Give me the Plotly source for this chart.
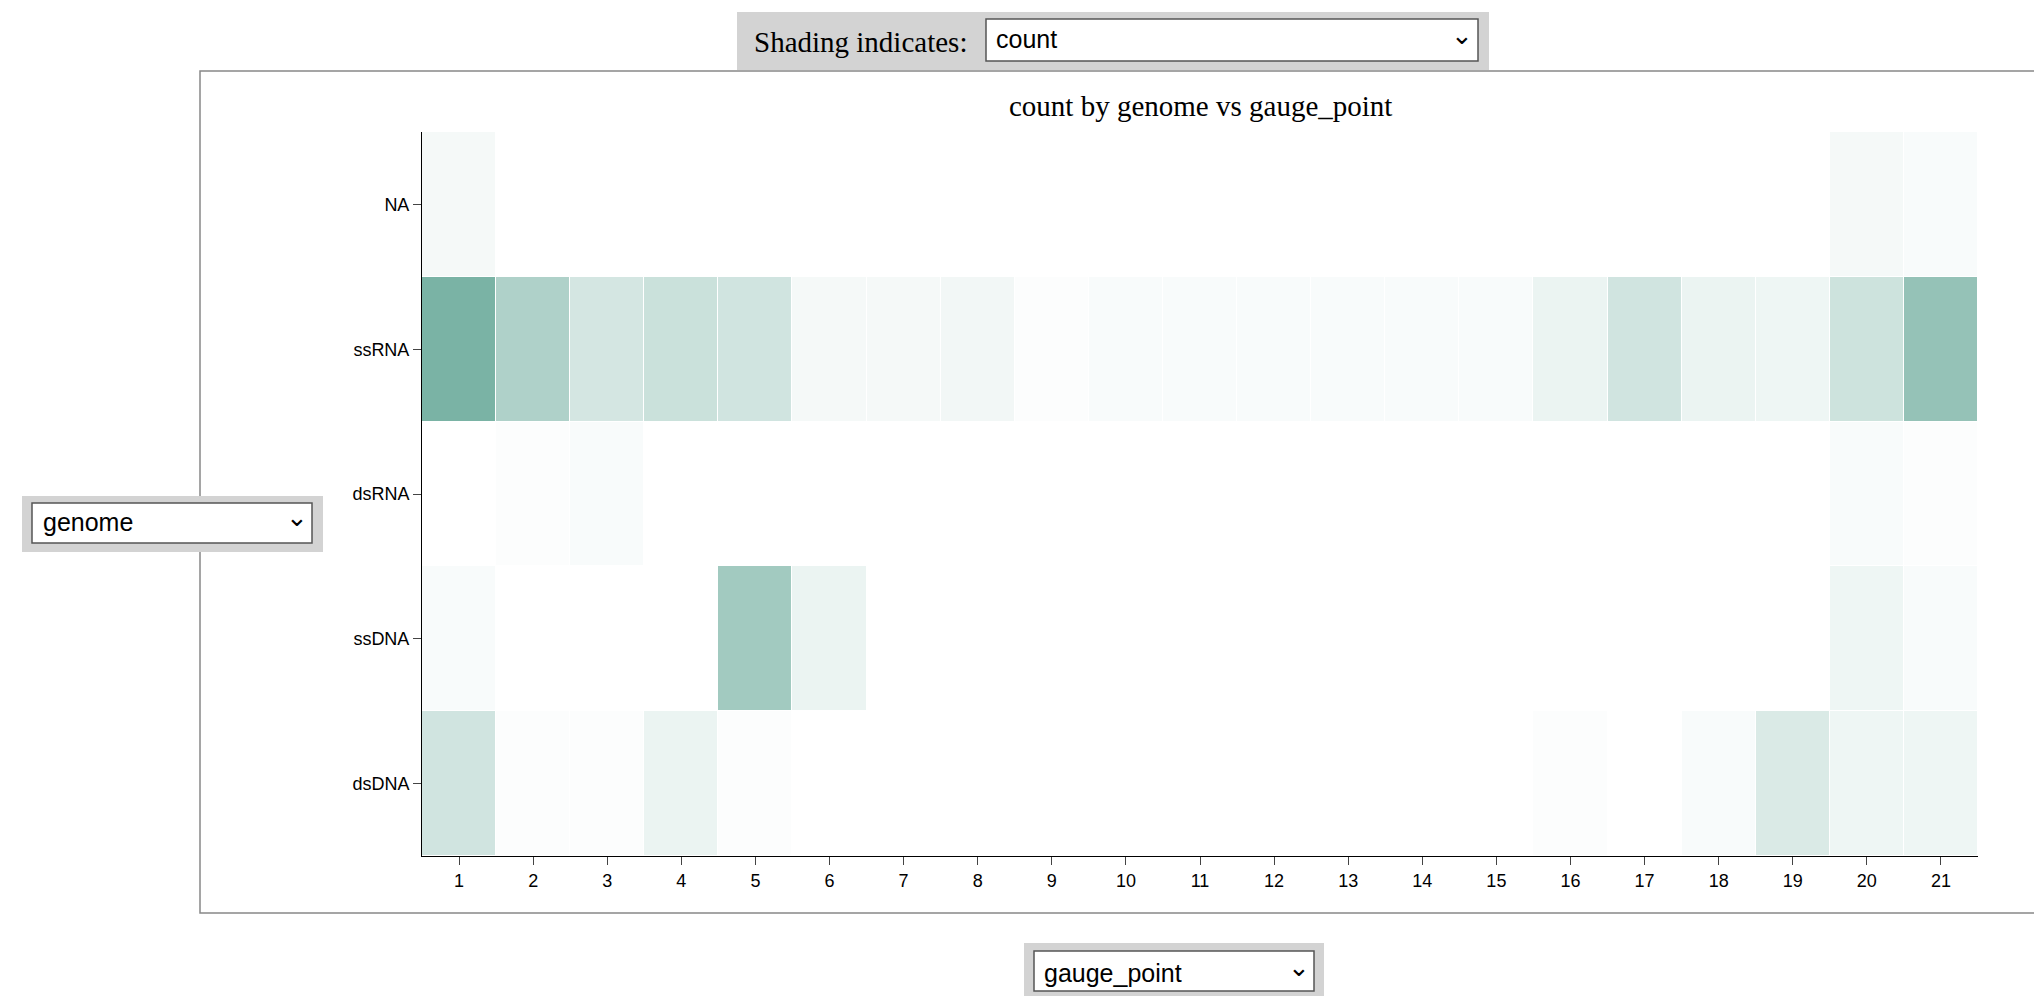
import plotly.graph_objects as go

genomes = ["dsDNA", "ssDNA", "dsRNA", "ssRNA", "NA"]
gauge = [str(i) for i in range(1, 22)]
counts = {
    "NA":    [3,0,0,0,0,0,0,0,0,0,0,0,0,0,0,0,0,0,0,3,2],
    "ssRNA": [40,24,13,16,14,3,3,4,1,2,2,2,2,2,2,6,14,6,5,15,32],
    "dsRNA": [0,1,2,0,0,0,0,0,0,0,0,0,0,0,0,0,0,0,0,2,1],
    "ssDNA": [2,0,0,0,28,6,0,0,0,0,0,0,0,0,0,0,0,0,0,5,2],
    "dsDNA": [14,1,1,6,1,0,0,0,0,0,0,0,0,0,0,1,0,2,11,5,5],
}
z = [counts[g] for g in genomes]

W, H = 2042, 996
L, R, T, B = 414, 1970, 124, 848
def px(x): return (x - L) / (R - L)
def py(y): return (B - y) / (B - T)

fig = go.Figure(go.Heatmap(
    x=gauge, y=genomes, z=z, xgap=1, ygap=1, showscale=False,
    colorscale=[[0, "#ffffff"], [1, "#7ab3a5"]], zmin=0, zmax=40,
    hovertemplate="genome=%{y}<br>gauge_point=%{x}<br>count=%{z}<extra></extra>"))

shapes = [
    dict(type="rect", xref="paper", yref="paper", x0=px(192), x1=px(2028), y0=py(63), y1=py(905),
         line=dict(color="#888", width=1.5)),
    dict(type="rect", xref="paper", yref="paper", x0=px(729), x1=px(1481), y0=py(4), y1=py(62),
         fillcolor="#d3d3d3", line=dict(width=0), layer="below"),
    dict(type="rect", xref="paper", yref="paper", x0=px(978), x1=px(1470), y0=py(11), y1=py(53),
         fillcolor="white", line=dict(color="#555", width=1.5)),
    dict(type="rect", xref="paper", yref="paper", x0=px(14), x1=px(315), y0=py(488), y1=py(544),
         fillcolor="#d3d3d3", line=dict(width=0)),
    dict(type="rect", xref="paper", yref="paper", x0=px(24), x1=px(304), y0=py(495), y1=py(535),
         fillcolor="white", line=dict(color="#555", width=1.5)),
    dict(type="rect", xref="paper", yref="paper", x0=px(1016), x1=px(1316), y0=py(935), y1=py(991),
         fillcolor="#d3d3d3", line=dict(width=0)),
    dict(type="rect", xref="paper", yref="paper", x0=px(1026), x1=px(1306), y0=py(943), y1=py(983),
         fillcolor="white", line=dict(color="#555", width=1.5)),
]
sans = "Liberation Sans"
ann = [
    dict(text="count by genome vs gauge_point", x=px(1192), y=py(80), font=dict(family="Liberation Serif", size=29, color="black")),
    dict(text="Shading indicates:", x=px(852), y=py(16), font=dict(family="Liberation Serif", size=29, color="black")),
    dict(text="count", x=px(986), y=py(15), xanchor="left", font=dict(family=sans, size=25, color="black")),
    dict(text="⌄", x=px(1454), y=py(10), font=dict(family=sans, size=26, color="black")),
    dict(text="genome", x=px(33), y=py(514), xanchor="left", font=dict(family=sans, size=25, color="black")),
    dict(text="⌄", x=px(289), y=py(509), font=dict(family=sans, size=26, color="black")),
    dict(text="gauge_point", x=px(1034), y=py(981), xanchor="left", font=dict(family=sans, size=25, color="black")),
    dict(text="⌄", x=px(1291), y=py(976), font=dict(family=sans, size=26, color="black")),
]
for a in ann:
    a.update(xref="paper", yref="paper", showarrow=False)
    a.setdefault("xanchor", "center")

fig.update_layout(
    width=W, height=H, margin=dict(l=L, r=W - R, t=T, b=H - B, autoexpand=False),
    plot_bgcolor="white", paper_bgcolor="white", shapes=shapes, annotations=ann,
    xaxis=dict(showgrid=False, zeroline=False, showline=True, linecolor="black", ticks="outside",
               ticklen=8, tickfont=dict(family=sans, size=18, color="black")),
    yaxis=dict(showgrid=False, zeroline=False, showline=True, linecolor="black", ticks="outside",
               ticklen=8, tickfont=dict(family=sans, size=18, color="black")),
)
fig.write_html("out.html")
